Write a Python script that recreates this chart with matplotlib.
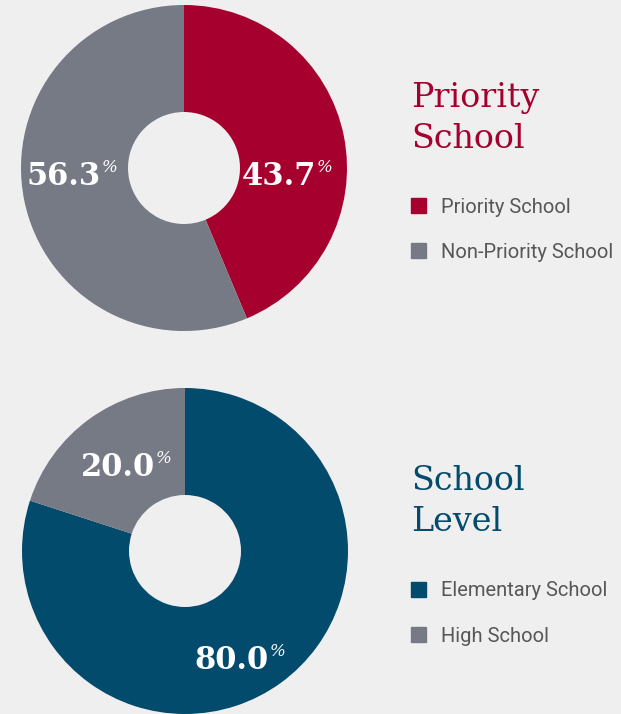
import matplotlib
matplotlib.use("Agg")
import matplotlib.pyplot as plt
from matplotlib.patches import Rectangle

# data
priority_labels = ["Priority School", "Non-Priority School"]
priority_values = [43.7, 56.3]
priority_colors = ["#a6002f", "#767a84"]

level_labels = ["Elementary School", "High School"]
level_values = [80.0, 20.0]
level_colors = ["#034b6d", "#767a84"]

W, H = 621, 714
BG = "#efefef"

fig = plt.figure(figsize=(W / 100, H / 100), dpi=100, facecolor=BG)


def fx(px):
    return px / W


def fy(py):
    return 1 - py / H


def donut(cx, cy, r, values, colors, label_pos):
    ax = fig.add_axes([fx(cx - r), fy(cy + r), 2 * r / W, 2 * r / H])
    ax.set_facecolor(BG)
    ax.pie(values, colors=colors, startangle=90, counterclock=False,
           radius=1, wedgeprops=dict(width=1 - 56 / r, linewidth=0))
    ax.set_xlim(-1, 1)
    ax.set_ylim(-1, 1)
    ax.set_aspect("equal")
    ax.axis("off")
    for v, (x, y) in zip(values, label_pos):
        ax.text(x, y, f"{v:.1f}", ha="right", va="baseline", color="white",
                fontsize=22, family="DejaVu Serif", fontweight="bold")
        ax.annotate("%", (x, y), xytext=(0.5, 9.5), textcoords="offset points",
                    ha="left", va="baseline", color="white", fontsize=12,
                    family="DejaVu Serif", style="italic")
    return ax


donut(184, 168, 163, priority_values, priority_colors,
      [(0.81, -0.104), (-0.51, -0.104)])
donut(185, 551, 163, level_values, level_colors,
      [(0.515, -0.724), (-0.184, 0.46)])


def side(title_lines, title_color, baselines, labels, colors, legend_y):
    for line, b in zip(title_lines, baselines):
        fig.text(fx(411), fy(b), line, color=title_color, fontsize=24,
                 family="DejaVu Serif", va="baseline", ha="left")
    for lab, c, y in zip(labels, colors, legend_y):
        fig.patches.append(Rectangle((fx(411), fy(y + 7.5)), 15 / W, 15 / H,
                                     transform=fig.transFigure, color=c))
        fig.text(fx(441), fy(y + 2), lab, color="#575757", fontsize=14.5,
                 family="Roboto", va="center", ha="left")


side(["Priority", "School"], priority_colors[0], [107, 148],
     priority_labels, priority_colors, [205, 250])
side(["School", "Level"], level_colors[0], [490, 531],
     level_labels, level_colors, [589, 634])

fig.savefig("out.png", dpi=100, facecolor=BG)
